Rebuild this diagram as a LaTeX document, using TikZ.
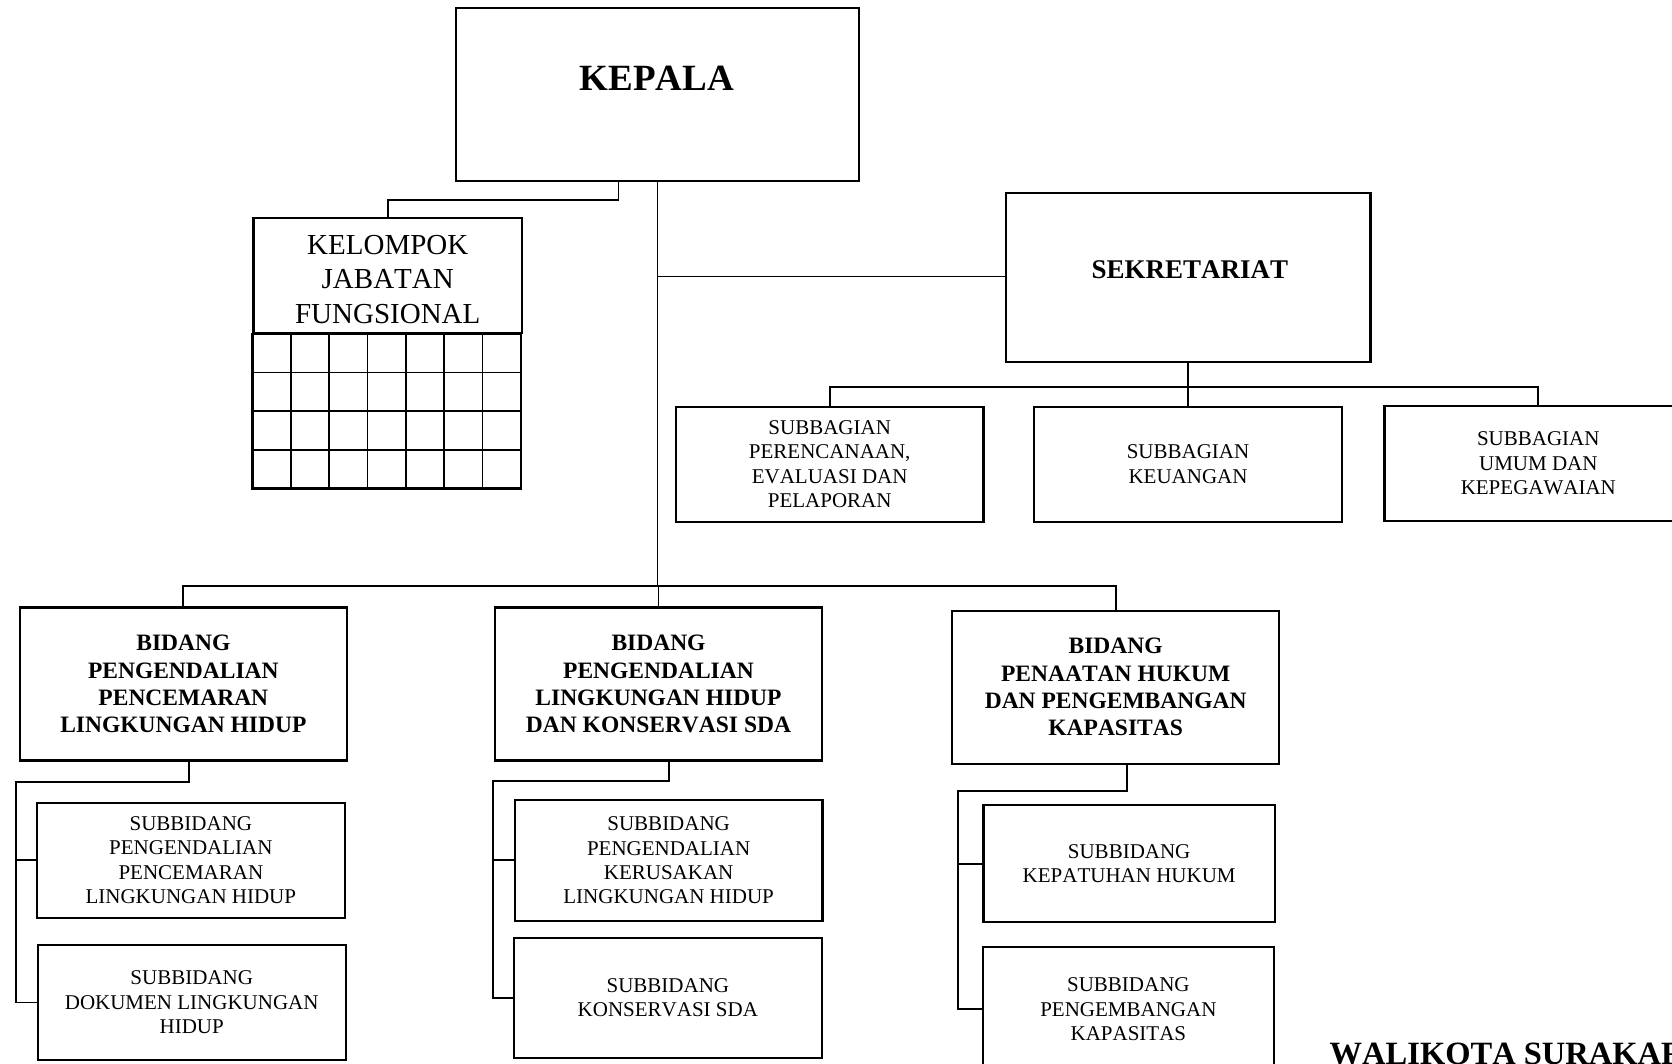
\documentclass[tikz,border=0pt]{standalone}
\usepackage{fontspec}
\setmainfont{Liberation Serif}[Kerning=Off]
\tikzset{main node/.style={draw,line width=2.2pt,inner sep=0pt,align=center},
  link/.style={line width=1.8pt},
  bidang node/.style={main node,minimum width=326.7pt,minimum height=153pt,font=\fontsize{23.5}{27.2}\selectfont\bfseries},
  sub node/.style={main node,minimum width=307.5pt,minimum height=115pt,font=\fontsize{21}{24.4}\selectfont},}

\begin{document}
\begin{tikzpicture}[x=1pt,y=-1pt]
  \useasboundingbox (0,0) rectangle (1672,1063);

  \node[main node,minimum width=403.3pt,minimum height=172.7pt] (kepala) at (657.5,94.35) {};
  \node[anchor=base,font=\fontsize{37}{42}\selectfont\bfseries] (kepalatxt) at (657,90) {KEPALA};
  \node[main node,minimum width=268.5pt,minimum height=114.4pt,
    label={[font=\fontsize{29}{34.5}\selectfont,align=center,yshift=-4pt]center:KELOMPOK\\JABATAN\\FUNGSIONAL}] (kjf) at (387.75,275.5) {};
  \node[main node,minimum width=364.8pt,minimum height=169.6pt] (sekr) at (1188,277.5) {};
  \node[anchor=base,font=\fontsize{27}{31}\selectfont\bfseries] (sekrtxt) at (1189.8,278.3) {SEKRETARIAT};

  \node[sub node] (sb1) at (829.7,464.2) {SUBBAGIAN\\PERENCANAAN,\\EVALUASI DAN\\PELAPORAN};
  \node[sub node] (sb2) at (1188,464.2) {SUBBAGIAN\\KEUANGAN};
  \node[sub node] (sb3) at (1538.3,463.5) {SUBBAGIAN\\UMUM DAN\\KEPEGAWAIAN};

  \node[bidang node] (b1) at (183.35,684) {BIDANG\\PENGENDALIAN\\PENCEMARAN\\LINGKUNGAN HIDUP};
  \node[bidang node] (b2) at (658.5,684) {BIDANG\\PENGENDALIAN\\LINGKUNGAN HIDUP\\DAN KONSERVASI SDA};
  \node[bidang node] (b3) at (1115.65,687.1) {BIDANG\\PENAATAN HUKUM\\DAN PENGEMBANGAN\\KAPASITAS};

  \node[sub node,minimum width=308.3pt] (sd1) at (190.85,860.2) {SUBBIDANG\\PENGENDALIAN\\PENCEMARAN\\LINGKUNGAN HIDUP};
  \node[sub node,minimum width=308pt] (sd2) at (191.7,1002.5) {SUBBIDANG\\DOKUMEN LINGKUNGAN\\HIDUP};
  \node[sub node,minimum height=120.7pt] (sd3) at (668.65,860.35) {SUBBIDANG\\PENGENDALIAN\\KERUSAKAN\\LINGKUNGAN HIDUP};
  \node[sub node,minimum height=120pt] (sd4) at (667.85,997.7) {SUBBIDANG\\KONSERVASI SDA};
  \node[sub node,minimum width=291.5pt,minimum height=117.3pt] (sd5) at (1129.15,863.65) {SUBBIDANG\\KEPATUHAN HUKUM};
  \node[sub node,minimum width=291.3pt,minimum height=125.3pt] (sd6) at (1128.35,1009.35) {SUBBIDANG\\PENGEMBANGAN\\KAPASITAS};

  \node[anchor=base west,inner sep=0pt,font=\fontsize{32.5}{37}\selectfont\bfseries] (walikota) at (1329.5,1064.5) {WALIKOTA SURAKARTA};

  % kotak jabatan fungsional
  \draw[line width=2.2pt] (kjf.south west) rectangle ++(268.5,154.6);
  \foreach \i in {1,...,6}
    \draw[link] ([xshift=\i*38.36pt]kjf.south west) -- ++(0,154.6);
  \foreach \j in {1,2,3}
    \draw[link] ([yshift=-\j*38.65pt]kjf.south west) -- ++(268.5,0);

  % garis utama
  \coordinate (hub) at (657.5,586);
  \coordinate (sbhub) at (1188,387.3);
  \draw[link] ([xshift=-39.1pt]kepala.south) -- ++(0,18.3) -| (kjf.north);
  \draw[link] (kepala.south) -- (hub) -| (b2.north);
  \draw[link] ([yshift=1pt]sekr.west) -- ([yshift=1pt]sekr.west -| kepala.south);
  \draw[link] (b1.north) |- (hub) -| (b3.north);
  \draw[link] (sekr.south) -- (sbhub) -- (sb2.north);
  \draw[link] (sb1.north) |- (sbhub) -| (sb3.north);

  % subbidang
  \coordinate (r1) at (16,782.3);
  \coordinate (r2) at (493.3,780.7);
  \coordinate (r3) at (957.7,790.7);
  \draw[link] ([xshift=6pt]b1.south) |- (r1) |- (sd2.west);
  \draw[link] (sd1.west) -- (sd1.west -| r1);
  \draw[link] ([xshift=10.2pt]b2.south) |- (r2) |- (sd4.west);
  \draw[link] (sd3.west) -- (sd3.west -| r2);
  \draw[link] ([xshift=11pt]b3.south) |- (r3) |- (sd6.west);
  \draw[link] (sd5.west) -- (sd5.west -| r3);
\end{tikzpicture}
\end{document}
